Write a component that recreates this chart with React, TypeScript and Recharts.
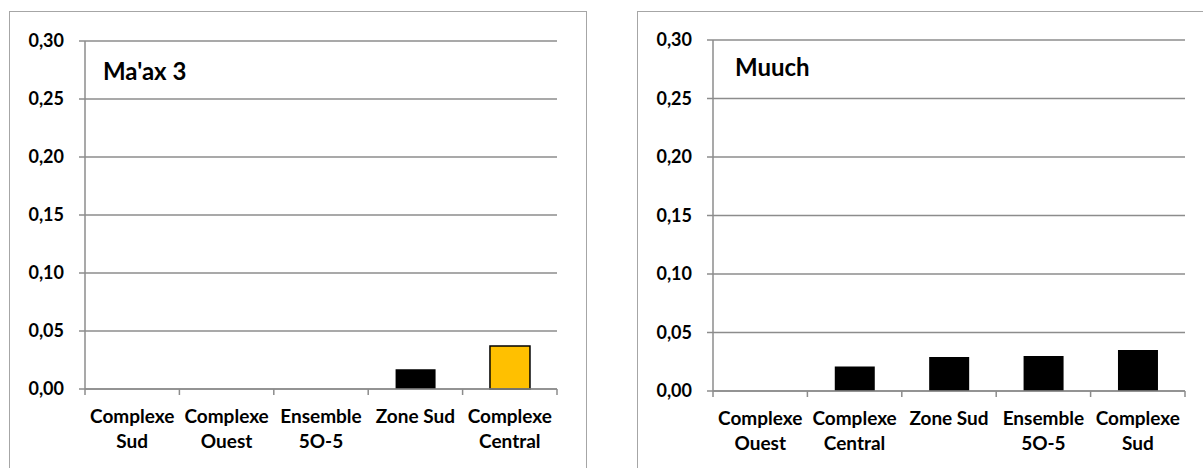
import { BarChart, Bar, XAxis, YAxis, CartesianGrid, Cell } from 'recharts';

const maaxCategories = ['Complexe Sud', 'Complexe Ouest', 'Ensemble 5O-5', 'Zone Sud', 'Complexe Central'];
const maaxValues = [0, 0, 0, 0.017, 0.037];

const muuchCategories = ['Complexe Ouest', 'Complexe Central', 'Zone Sud', 'Ensemble 5O-5', 'Complexe Sud'];
const muuchValues = [0, 0.021, 0.029, 0.030, 0.035];

const yTicks = [0, 0.05, 0.1, 0.15, 0.2, 0.25, 0.3];

const FONT = 'Lato, "Open Sans", sans-serif';
const GRID = '#8c8c8c';
const BORDER = '#a6a6a6';

const fmt = (v: number) => v.toFixed(2).replace('.', ',');

const splitLabel = (label: string) => {
    if (label.length <= 8) return [label];
    const i = label.indexOf(' ');
    return [label.slice(0, i), label.slice(i + 1)];
};

const CategoryTick = (props: any) => {
    const { x, y, payload, index, visibleTicksCount } = props;
    const half = payload && payload.offset ? payload.offset : 47.2;
    const lines = splitLabel(String(payload.value));
    const last = index === visibleTicksCount - 1;
    return (
        <g>
            <line x1={x - half} x2={x - half} y1={y} y2={y + 6} stroke={GRID} strokeWidth={1.5} />
            {last && <line x1={x + half} x2={x + half} y1={y} y2={y + 6} stroke={GRID} strokeWidth={1.5} />}
            {lines.map((t, i) => (
                <text
                    key={i}
                    x={x}
                    y={y + 34 + i * 25}
                    textAnchor="middle"
                    fill="#000"
                    fontSize={19}
                    fontWeight={700}
                    fontFamily={FONT}
                >
                    {t}
                </text>
            ))}
        </g>
    );
};

type PanelProps = {
    categories: string[];
    values: number[];
    highlight?: string;
    width: number;
    yAxisWidth: number;
    marginRight: number;
    marginTop: number;
    marginBottom: number;
};

const Panel = ({ categories, values, highlight, width, yAxisWidth, marginRight, marginTop, marginBottom }: PanelProps) => {
    const data = categories.map((name, i) => ({ name, value: values[i] }));
    return (
        <BarChart
            width={width}
            height={468}
            data={data}
            margin={{ top: marginTop, right: marginRight, bottom: marginBottom, left: 0 }}
            barCategoryGap="29%"
        >
            <CartesianGrid vertical={false} stroke={GRID} strokeWidth={1.5} />
            <XAxis
                dataKey="name"
                height={60}
                interval={0}
                tickSize={0}
                tickMargin={0}
                tickLine={false}
                axisLine={{ stroke: GRID, strokeWidth: 1.5 }}
                tick={<CategoryTick />}
            />
            <YAxis
                width={yAxisWidth}
                domain={[0, 0.3]}
                ticks={yTicks}
                interval={0}
                tickFormatter={fmt}
                tickSize={6}
                tickMargin={15}
                axisLine={{ stroke: GRID, strokeWidth: 1.5 }}
                tickLine={{ stroke: GRID, strokeWidth: 1.5 }}
                tick={{ fill: '#000', fontSize: 18, fontWeight: 700, fontFamily: FONT }}
            />
            <Bar dataKey="value" isAnimationActive={false}>
                {data.map((d) => (
                    <Cell
                        key={d.name}
                        fill={d.name === highlight ? '#ffc000' : '#000'}
                        stroke={d.name === highlight ? '#000' : 'none'}
                        strokeWidth={1.5}
                    />
                ))}
            </Bar>
        </BarChart>
    );
};

const titleStyle: React.CSSProperties = {
    position: 'absolute',
    fontFamily: FONT,
    fontWeight: 700,
    fontSize: 24,
    lineHeight: '28px',
    color: '#000',
    whiteSpace: 'nowrap',
};

export default function App() {
    return (
        <div style={{ position: 'absolute', left: 0, top: 0, width: 1203, height: 468, overflow: 'hidden', background: '#fff', fontFamily: FONT }}>
            <div style={{ position: 'absolute', left: 9, top: 11, width: 576, height: 480, border: `1.5px solid ${BORDER}` }} />
            <div style={{ position: 'absolute', left: 637, top: 11, width: 600, height: 480, border: `1.5px solid ${BORDER}` }} />

            <div style={{ position: 'absolute', left: 0, top: 0 }}>
                <Panel
                    categories={maaxCategories}
                    values={maaxValues}
                    highlight="Complexe Central"
                    width={600}
                    yAxisWidth={85}
                    marginRight={43}
                    marginTop={41}
                    marginBottom={19}
                />
            </div>
            <div style={{ position: 'absolute', left: 600, top: 0 }}>
                <Panel
                    categories={muuchCategories}
                    values={muuchValues}
                    width={603}
                    yAxisWidth={113}
                    marginRight={18}
                    marginTop={40}
                    marginBottom={17}
                />
            </div>

            <div style={{ ...titleStyle, left: 103, top: 57 }}>Ma'ax 3</div>
            <div style={{ ...titleStyle, left: 735, top: 53 }}>Muuch</div>
        </div>
    );
}
